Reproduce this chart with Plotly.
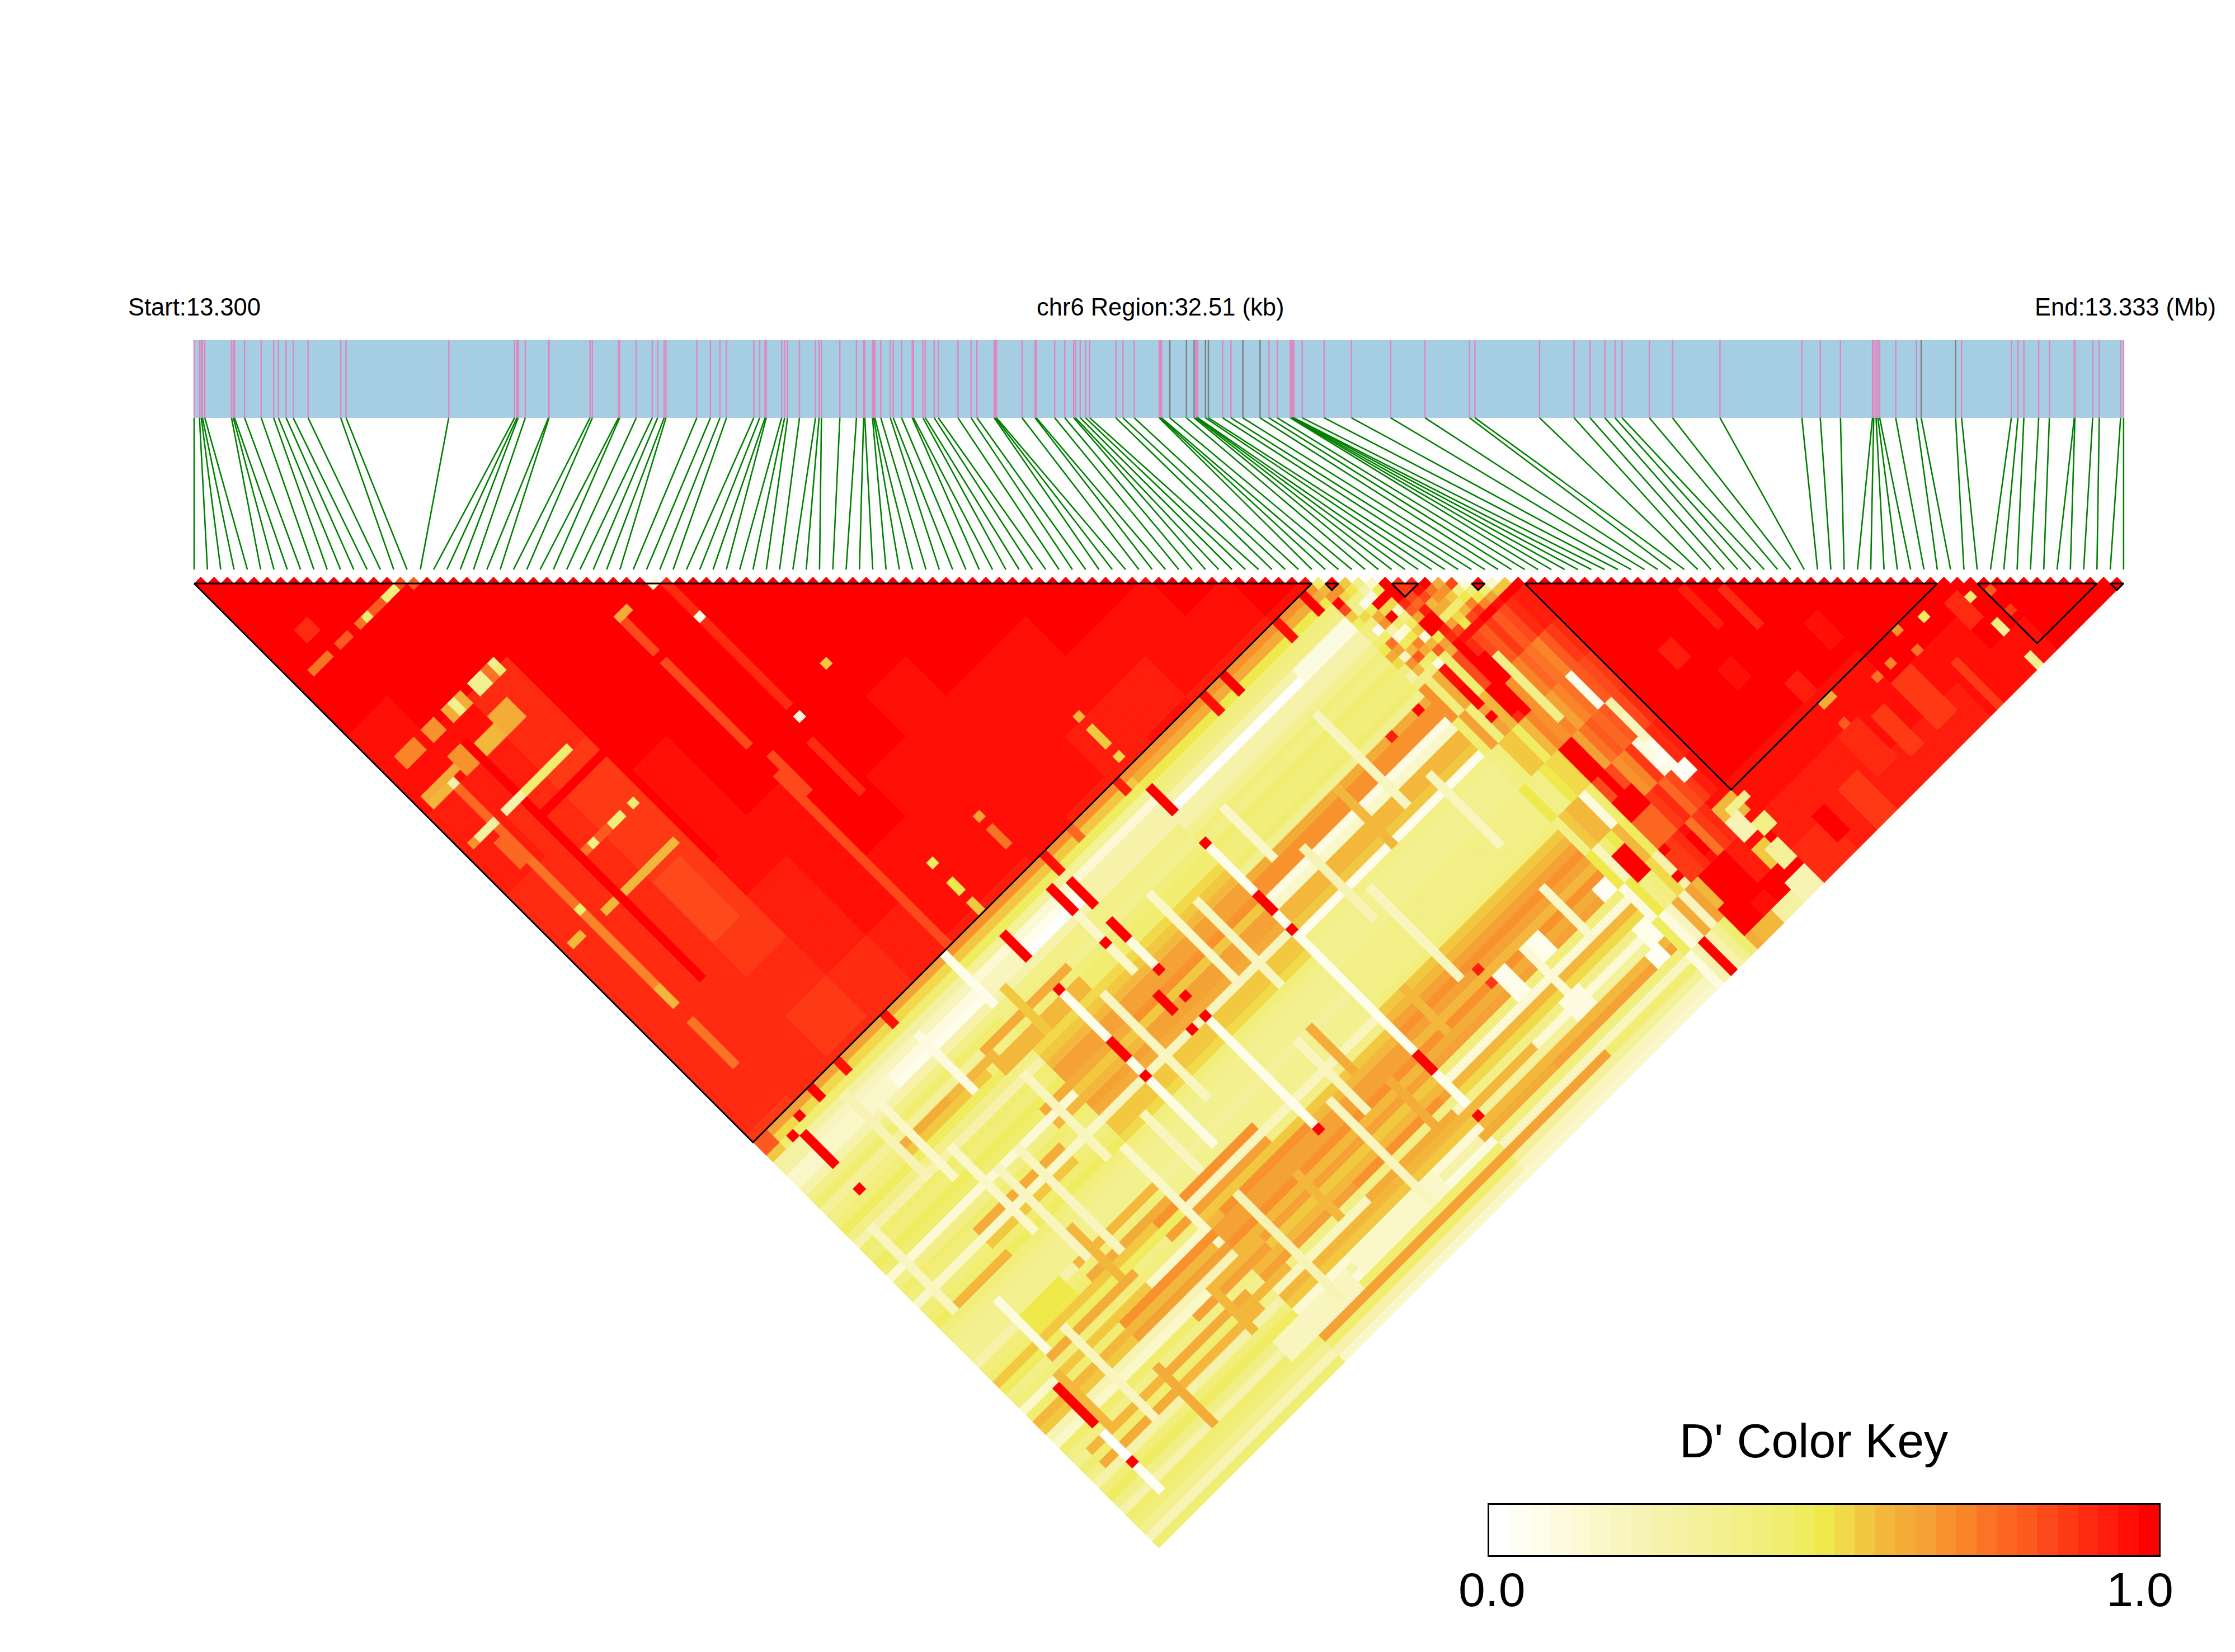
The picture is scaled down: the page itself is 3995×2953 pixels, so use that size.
import numpy as np
import plotly.graph_objects as go

# ---------- data ----------
REGION_KB = 32.51
START_LABEL = "Start:13.300"
MID_LABEL = "chr6 Region:32.51 (kb)"
END_LABEL = "End:13.333 (Mb)"
KEY_TITLE = "D' Color Key"
KEY_TICKS = ["0.0", "1.0"]

snp_kb = [0.00,0.09,0.12,0.14,0.18,0.63,0.66,0.68,0.85,1.13,1.34,1.42,1.55,1.67,1.92,2.47,2.56,4.29,
5.40,5.44,5.46,5.58,5.97,5.98,6.67,6.71,7.15,7.17,7.45,7.72,7.81,7.92,7.95,8.47,8.70,8.86,8.97,9.43,9.53,
9.62,9.64,9.90,9.95,10.00,10.20,10.47,10.53,10.57,10.88,11.16,11.28,11.30,11.43,11.45,11.47,11.57,
11.73,11.78,11.92,12.10,12.12,12.28,12.32,12.47,12.54,12.87,13.09,13.19,13.48,13.50,13.52,13.95,14.17,14.19,
14.50,14.67,14.82,14.85,14.93,15.02,15.09,15.53,15.65,15.84,16.26,16.28,16.30,16.44,16.72,16.85,16.88,16.90,16.91,
17.04,17.09,17.33,17.47,17.67,17.96,18.11,18.25,18.47,18.49,18.50,18.52,18.53,18.67,19.04,19.50,20.16,20.74,
21.49,21.58,22.67,23.25,23.52,23.77,23.94,24.06,24.52,24.91,25.71,27.09,27.40,27.74,28.28,28.30,28.34,28.37,28.40,
28.67,29.02,29.10,29.68,29.78,30.62,30.73,30.83,31.08,31.26,31.68,31.69,31.99,32.10,32.46,32.51]
grey_snps = [87,88,89,93,94,97,98,132,133]
ld_blocks = [(0,84),(85,86),(90,92),(96,97),(100,131),(134,143),(144,145)]

palette = ["#FFFFFF","#FEFEF4","#FDFDEA","#FCFBDF","#FCF9D4","#FAF7C8","#F9F5BF","#F7F3B5","#F6F2AC","#F5F1A3",
"#F4F19A","#F3F090","#F2EF86","#F1EE7C","#F1ED70","#F0EC60","#F0E94B","#F2D94A","#F2C840","#F3B83B","#F3AC38",
"#F4A235","#F8922C","#FA8529","#FB7426","#FC6822","#FD5A1F","#FE4A1A","#FE3A15","#FF2B10","#FF1D0B","#FF0F05","#FF0000"]

# level characters 0-9 a-w = colour-key bins 0..32
# block 1: rows of 6 SNPs, columns of 6 SNPs
block1_rows = ["wwwwvvuutttttts","wwwwwvutttttttt","wwwwwttssssstst","wwwwwwwwvvvuutt","wwwwwwwwwwvvvuu",
"wwwwwwwwwwwwvvu","wwwwwwwwwwwvvvu","wwwwwwwwwwvvvvv","wwwwwwwwwwwvvvu","wwwwwwwwwwwvvuu","wwwwwwwwwwwwvuv",
"wwwwwwwwwwwwvvu","wwwwwwwwwwwwwvu","wwwwwwwwwwwwwwv"]
# columns j=85..145 for SNP i in 0-27, 28-55, 56-83
col_low  = [21,17,14,9,6,3,2,8,12,14,10,12,13,15,12,8,14,13,15,14,4,12,14,13,5,13,14,15,13,12,11,11,11,8,13,14,18,15,12,13,5,14,19,18,7,5,14,12,11,14,12,8,13,15,12,8,14,13,11,7,14]
col_mid  = [22,18,15,10,4,2,0,8,12,12,11,13,14,14,17,18,19,21,21,22,18,21,21,20,6,18,18,17,13,12,11,11,11,10,11,11,11,6,12,18,19,21,21,22,19,21,18,19,21,12,6,19,18,4,8,3,14,21,14,8,5]
col_high = [22,20,16,13,12,8,0,8,8,11,13,12,14,13,13,14,11,20,22,22,3,5,19,19,18,2,12,11,11,11,11,12,12,12,12,12,13,18,19,21,22,21,19,22,20,21,13,4,19,17,12,4,10,19,21,13,6,14,10,6,5]
# triangle between the blocks: SNP i=84..99 against j=i+1..100
tri_rows = ["ejmwrifdcegkhd8c","wmhcbhd1eol6mjc","igc2fkm83fjqed","c83whme4gnkf3","5fwh5cfi3jqe","wwwtqljiglk",
"ssrpur4utj","tvrjkelrv","womkehgv","kmiejrv","rcgnsw","3dgnw","wdlv","5iw","iw","w"]
# SNP i=84..99 against j=101..145 in groups of 5
mid_rows = ["mecgcg3f3","dldci6g38","kdicjec6","vligjgdk8","ejfh3jh6b","rtjhef8le","qvnwrqsjk","tmmwqrsku",
"rpnlrqtnv","qnlomsvtv","spnqntovv","qoopspsuw","rn2q3rtuw","tqq82svvw","usrrtuvvw","utstuvvww"]
# SNP i>=100 in groups of 5 against j=101..145 in groups of 5
right_rows = ["wwwwwwvut","wwwwwwvuu","wwwwwwvuu","wwwwwwvvu","wwwwwwwvu","wwwwwwwvv","wwwwwwwwv","wwwwwwwww","wwwwwwwww"]
# shorter bands in the pale region: (i from, i to, j from, j to, level)
band_patches = [
(24,36,95,95,20),(24,36,97,98,19),(10,22,96,96,20),(10,22,97,97,18),(24,38,121,121,22),(24,38,123,123,21),(20,30,131,131,21),
(42,54,133,133,22),(42,54,135,135,20),(50,70,142,142,21),(24,36,104,104,20),(24,36,106,106,19),(10,22,108,108,20),(10,22,110,110,18),
(15,27,118,118,19),(15,27,120,120,20),(2,10,112,112,19),(6,18,123,123,20),(6,18,125,125,18),(13,25,133,133,20),(13,25,135,135,19),
(2,12,133,133,19),(2,12,135,135,20),(30,42,125,125,22),(30,42,127,127,21),(55,65,136,136,19),(55,65,139,139,20),(36,48,138,140,5),(24,34,139,141,6),
(14,14,100,112,5),(19,19,105,120,6),(27,27,113,127,5),(9,9,122,135,6),(2,2,100,112,6),(37,37,100,115,6),(46,46,125,140,6),(51,51,100,112,6),
(65,65,112,125,6),(74,74,95,108,6),(60,60,95,102,5),(32,32,125,140,7),
(17,17,115,122,19),(30,30,90,98,18),(50,50,118,124,20),(70,70,102,110,19),(5,5,125,132,19),(13,13,132,140,20),
]
# stripes and patches: (i from, i to, j from, j to, level)
patches = [
(8,8,33,68,32),(8,19,44,44,32),(18,18,44,60,32),(12,15,58,66,27),
(13,14,16,16,13),(11,12,16,16,26),(10,10,16,16,14),(9,9,16,16,24),(6,7,16,16,26),(2,4,16,16,24),(4,5,12,13,29),
(15,15,16,16,27),(16,16,17,17,26),
(13,14,29,30,11),(16,16,29,29,11),(16,16,30,30,14),(15,15,29,30,24),(10,10,29,29,11),(10,10,30,30,12),(11,11,29,30,20),(9,9,29,30,20),(6,7,29,30,22),(2,4,29,30,23),
(12,14,33,35,20),(9,11,34,35,19),(6,7,33,35,22),(1,5,34,34,20),(1,3,35,35,19),(4,4,35,35,8),
(12,15,41,41,14),(9,11,41,41,14),(8,8,41,41,8),(6,7,41,41,8),(2,4,41,41,9),(1,1,41,41,22),
(4,4,36,40,25),(4,4,42,46,25),(3,3,43,46,25),(16,16,50,50,14),(13,14,50,50,13),(10,10,50,50,12),(9,9,50,50,24),(11,12,50,50,26),
(9,16,56,56,19),(6,7,56,56,19),(4,4,47,53,24),(4,4,54,54,14),(4,4,55,66,23),(1,2,56,56,19),(4,4,66,68,19),(4,4,71,77,24),
(29,30,35,35,20),(34,34,35,35,4),(29,29,36,40,27),(35,35,36,40,29),(29,29,42,54,27),(35,35,42,54,29),(35,35,41,41,3),(35,35,56,56,3),
(30,30,57,62,27),(34,34,59,66,29),(29,29,59,84,27),(34,34,77,77,15),(34,34,80,81,16),(34,34,83,84,18),(41,41,77,77,21),(41,41,79,81,24),
(56,56,77,77,19),(56,56,79,81,18),(56,56,83,83,17),(41,41,54,54,18),
(0,1,85,86,26),(0,1,87,87,18),(0,3,88,90,9),
(14,27,126,126,22),(14,27,128,128,21),(24,30,130,130,19),(24,30,134,134,19),(18,24,96,96,19),(6,12,118,120,16),
(0,14,90,91,5),(44,55,90,91,8),(28,33,90,91,6),(62,70,90,90,8),(76,83,90,91,3),
(12,12,92,102,5),(25,25,100,112,6),(48,48,96,108,5),(48,48,118,128,6),(63,63,104,114,7),(78,78,108,118,6),(78,78,125,132,5),(16,16,105,118,6),(10,10,88,100,7),
(52,52,128,134,20),(23,23,130,136,19),(38,38,128,134,19),(60,60,122,128,19),
(56,56,97,135,2),(43,43,98,101,3),(43,43,110,125,2),(34,34,97,112,2),(34,34,113,119,3),(28,28,85,92,2),(20,20,89,97,3),(4,4,133,136,0),(4,4,138,141,1),(41,41,92,100,5),
(72,72,128,136,4),(31,31,112,120,6),(6,6,115,122,3),(68,69,128,131,2),(73,74,128,130,2),(82,83,129,130,1),(82,83,135,137,2),(81,82,138,139,1),(71,73,135,137,3),
(3,3,87,87,32),(4,4,88,92,32),(4,4,96,96,32),(5,5,86,86,32),(8,8,85,86,32),(4,4,126,131,32),(4,4,137,137,32),(12,12,85,86,31),(19,19,85,86,31),
(34,34,88,91,32),(34,34,96,96,32),(34,34,104,106,32),(34,34,109,109,32),(41,41,88,91,32),(41,41,96,96,32),(41,41,104,106,32),(41,41,109,109,32),
(43,43,85,87,31),(43,43,89,92,32),(43,43,95,97,32),(43,43,102,102,32),(43,43,106,106,32),(43,43,109,109,32),(43,43,126,126,32),(47,47,85,86,25),(54,54,85,86,30),
(56,56,88,91,32),(56,56,96,96,32),(56,56,104,106,32),(56,56,109,109,32),(56,56,128,130,32),(56,56,137,137,32),(67,67,85,87,31),(67,67,126,126,30),(67,67,128,128,28),
(70,70,85,87,32),(78,78,85,87,31),(78,78,102,102,30),(82,82,85,87,32),(82,82,102,102,32),(87,87,93,93,32),
(92,92,104,113,12),(89,90,96,97,32),(90,90,100,102,32),(90,91,103,106,32),(89,90,106,109,32),(90,90,110,110,32),(87,87,104,106,32),(87,87,108,108,32),
(96,96,113,114,2),(96,97,124,124,1),(97,98,126,127,1),(97,97,118,121,6),(90,91,116,119,32),(91,91,121,123,32),(90,92,124,127,32),(90,92,127,130,25),(90,90,131,131,32),(86,87,128,131,32),
(89,89,134,134,32),(93,93,132,134,32),(91,94,136,141,32),(90,92,140,143,32),
(97,99,132,134,19),(98,100,133,133,11),(99,100,136,137,12),(97,98,134,136,7),(97,98,138,140,18),(98,99,139,141,10),(97,99,143,145,7),(94,96,144,145,9),(91,93,144,145,19),
(111,111,113,118,30),(114,114,116,121,29),(108,109,122,124,31),(118,119,125,128,31),(112,113,128,130,30),(105,106,116,118,30),
(113,114,132,132,20),(124,124,132,132,22),(124,124,135,135,24),(121,121,134,134,23),(119,119,134,134,24),(127,127,133,133,15),
(132,132,135,135,14),(132,132,139,139,13),(132,132,140,140,10),(132,132,144,145,11),(130,131,134,137,29),(126,126,139,145,28),(113,113,135,135,26),
(112,114,136,141,29),(116,117,137,142,28),(108,110,140,145,28),(104,105,140,143,32),(120,122,136,142,28),(134,134,136,136,26),(134,134,139,139,28),
]

# ---------- matrix assembly ----------
N = len(snp_kb)
LEVEL_CHARS = "0123456789abcdefghijklmnopqrstuvw"
def lv(c):
    return LEVEL_CHARS.index(c)
M = np.full((N, N), 32, dtype=int)
for i in range(84):
    for j in range(i + 1, 85):
        M[i, j] = lv(block1_rows[i // 6][j // 6])
    for j in range(85, N):
        src = col_low if i < 28 else col_mid if i < 56 else col_high
        M[i, j] = src[j - 85]
for k, row in enumerate(tri_rows):
    for m, c in enumerate(row):
        M[84 + k, 85 + k + m] = lv(c)
for k, row in enumerate(mid_rows):
    for m, c in enumerate(row):
        M[84 + k, 101 + 5 * m:min(N, 106 + 5 * m)] = lv(c)
for k, row in enumerate(right_rows):
    for m, c in enumerate(row):
        M[100 + 5 * k:105 + 5 * k, 101 + 5 * m:min(N, 106 + 5 * m)] = lv(c)
for a, b, c, d, v in band_patches + patches:
    M[a:b + 1, c:d + 1] = v

# ---------- figure ----------
W, H = 3995, 2953
X0, XU = 347.0, 23.785
Y0, YU = 1043.0, 11.8925
BAR_TOP, BAR_BOTTOM, LINK_BOTTOM = -36.6, -24.9, -2.1
x_bar = [k * (N - 1) / REGION_KB for k in snp_kb]

fig = go.Figure()
common = dict(mode="lines", hoverinfo="skip", showlegend=False)
fig.add_trace(go.Scatter(x=[0, N - 1, N - 1, 0, 0], y=[BAR_TOP, BAR_TOP, BAR_BOTTOM, BAR_BOTTOM, BAR_TOP],
                         fill="toself", fillcolor="#A6CEE3", line=dict(width=0), **common))
for colour, idx in (("#DF88C0", [k for k in range(N) if k not in grey_snps]), ("#808080", grey_snps)):
    xs, ys = [], []
    for k in idx:
        xs += [x_bar[k], x_bar[k], None]
        ys += [BAR_TOP, BAR_BOTTOM, None]
    fig.add_trace(go.Scatter(x=xs, y=ys, line=dict(color=colour, width=2.5), **common))
xs, ys = [], []
for k in range(N):
    xs += [x_bar[k], k, None]
    ys += [BAR_BOTTOM, LINK_BOTTOM, None]
fig.add_trace(go.Scatter(x=xs, y=ys, line=dict(color="#008000", width=2.6), **common))

for level, colour in enumerate(palette):
    xs, ys = [], []
    for i in range(N - 1):
        for j in range(i + 1, N):
            if M[i, j] == level:
                cx, cy = (i + j) / 2, j - i - 1
                xs += [cx - 0.5, cx, cx + 0.5, cx, cx - 0.5, None]
                ys += [cy, cy - 1, cy, cy + 1, cy, None]
    if xs:
        fig.add_trace(go.Scatter(x=xs, y=ys, fill="toself", fillcolor=colour,
                                 line=dict(color=colour, width=0.4), **common))

xs, ys = [], []
for s, e in ld_blocks:
    xs += [s, e, (s + e) / 2, s, None]
    ys += [0, 0, e - s, 0, None]
fig.add_trace(go.Scatter(x=xs, y=ys, line=dict(color="black", width=3), **common))

n_key = len(palette)
fig.add_trace(go.Heatmap(z=[list(range(n_key))], x=[(k + 0.5) / n_key for k in range(n_key)], y=[0],
                         zmin=0, zmax=n_key - 1, showscale=False, hoverinfo="skip",
                         colorscale=[[k / (n_key - 1), c] for k, c in enumerate(palette)],
                         xaxis="x2", yaxis="y2"))

FONT = "Liberation Sans"
def note(text, px, py, size, anchor):
    fig.add_annotation(text=text, x=px / W, y=1 - py / H, xref="paper", yref="paper", xanchor=anchor,
                       yanchor="bottom", showarrow=False, font=dict(family=FONT, size=size, color="black"))
note(START_LABEL, 227, 575, 43.5, "left")
note(MID_LABEL, 2074, 575, 43.5, "center")
note(END_LABEL, 3635, 575, 43.5, "left")
note(KEY_TITLE, 3242, 2625, 86, "center")

fig.update_layout(
    width=W, height=H, margin=dict(l=0, r=0, t=0, b=0), paper_bgcolor="white", plot_bgcolor="white",
    xaxis=dict(domain=[0, 1], range=[-X0 / XU, (W - X0) / XU], visible=False, automargin=False),
    yaxis=dict(domain=[0, 1], range=[(H - Y0) / YU, -Y0 / YU], visible=False, automargin=False),
    xaxis2=dict(domain=[2662 / W, 3859 / W], range=[0, 1], anchor="y2", showgrid=False, zeroline=False,
                showline=True, mirror=True, linecolor="black", linewidth=3, ticks="", automargin=False,
                tickvals=[0.004, 0.9716], ticktext=KEY_TICKS, ticklabelstandoff=-15,
                tickfont=dict(family=FONT, size=86, color="black")),
    yaxis2=dict(domain=[1 - 2780 / H, 1 - 2690 / H], range=[-0.5, 0.5], anchor="x2", showgrid=False, zeroline=False,
                showline=True, mirror=True, linecolor="black", linewidth=3, ticks="", showticklabels=False, automargin=False),
)
fig.write_html("out.html", post_script="document.body.style.margin='0';", config=dict(displayModeBar=False))
